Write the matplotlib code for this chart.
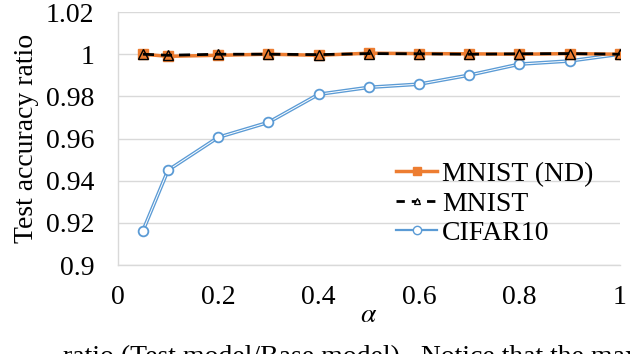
import matplotlib.pyplot as plt
from matplotlib.lines import Line2D

plt.rcParams["font.family"] = ["Liberation Serif", "DejaVu Serif"]
plt.rcParams["mathtext.fontset"] = "stix"

alpha = [0.05, 0.1, 0.2, 0.3, 0.4, 0.5, 0.6, 0.7, 0.8, 0.9, 1.0]
mnist_nd = [1.0, 0.999, 0.9995, 1.0, 0.9995, 1.0005, 1.0003, 1.0002, 1.0, 1.0003, 1.0]
mnist = [1.0, 0.9995, 1.0, 1.0, 0.9998, 1.0003, 1.0002, 1.0, 1.0002, 1.0003, 1.0]
cifar10 = [0.9163, 0.945, 0.9606, 0.9677, 0.981, 0.9843, 0.9858, 0.9901, 0.9953, 0.9968, 1.0]

y_ticks = [0.9, 0.92, 0.94, 0.96, 0.98, 1.0, 1.02]
y_tick_labels = ["0.9", "0.92", "0.94", "0.96", "0.98", "1", "1.02"]
x_ticks = [0, 0.2, 0.4, 0.6, 0.8, 1.0]
x_tick_labels = ["0", "0.2", "0.4", "0.6", "0.8", "1"]

orange = "#ED7D31"
blue = "#5B9BD5"
fs = 20

fig = plt.figure(figsize=(6.3, 3.54), dpi=100)
ax = fig.add_axes([0.187, 0.251, 0.797, 0.715])

# CIFAR10 (double-line look)
ax.plot(alpha, cifar10, color=blue, lw=2.6, zorder=2)
ax.plot(alpha, cifar10, color="white", lw=0.7, zorder=2.1)
ax.plot(alpha, cifar10, ls="none", marker="o", ms=7, mfc="white",
        mec=blue, mew=1.3, zorder=2.2)

ax.plot(alpha, mnist_nd, color=orange, lw=2.5, marker="s", ms=6.5,
        mfc=orange, mec=orange, zorder=3)
ax.plot(alpha, mnist, color="black", lw=2.0, ls=(0, (4, 2.5)), marker="^",
        ms=6.5, mfc="none", mec="black", mew=1.0, zorder=4)

ax.set_xlim(0, 1)
ax.set_ylim(0.9, 1.02)
ax.set_yticks(y_ticks)
ax.set_yticklabels(y_tick_labels)
ax.set_xticks(x_ticks)
ax.set_xticklabels(x_tick_labels)
ax.tick_params(axis="both", length=0, labelsize=fs)
ax.tick_params(axis="y", pad=17)
ax.tick_params(axis="x", pad=14)

ax.grid(axis="y", color="#D9D9D9", lw=1.0)
ax.set_axisbelow(True)
for side in ["top", "right"]:
    ax.spines[side].set_visible(False)
ax.spines["left"].set_color("#D9D9D9")
ax.spines["bottom"].set_color("#D9D9D9")
ax.spines["left"].set_linewidth(1.0)
ax.spines["bottom"].set_linewidth(1.0)

ax.set_ylabel("Test accuracy ratio", fontsize=fs, labelpad=5)
ax.set_xlabel(r"$\alpha$", fontsize=fs, labelpad=-5)

handles = [
    Line2D([], [], color=orange, lw=2.5, marker="s", ms=6, mfc=orange, mec=orange),
    Line2D([], [], color="black", lw=2.0, ls=(0, (3, 2.5)), marker="^", ms=5,
           mfc="white", mec="black", mew=0.9),
    Line2D([], [], color=blue, lw=1.6, marker="o", ms=6, mfc="white", mec=blue),
]
ax.legend(handles, ["MNIST (ND)", "MNIST", "CIFAR10"], loc="lower left",
          bbox_to_anchor=(0.555, 0.075), frameon=False, fontsize=fs,
          handlelength=1.45, handletextpad=0.2, labelspacing=0.15,
          borderaxespad=0.0, borderpad=0.0)

fig.text(0.1, 0.025, "ratio (Test model/Base model).  Notice that the maxi",
         fontsize=fs, ha="left", va="top")

fig.savefig("out.png", dpi=100)
